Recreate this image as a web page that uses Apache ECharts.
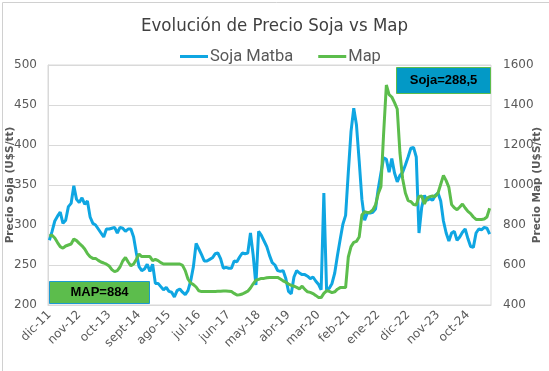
<!DOCTYPE html>
<html><head><meta charset="utf-8">
<script src="https://cdn.jsdelivr.net/npm/echarts/dist/echarts.min.js"></script>
<style>html,body{margin:0;padding:0;background:#fff}#c{width:549px;height:371px}</style>
</head><body><div id="c"></div>
<script>
// Monthly categories, dic-11 .. jun-25
const monthNames = ['ene','feb','mar','abr','may','jun','jul','ago','sept','oct','nov','dic'];
const startYear = 2011, startMonth = 11, monthCount = 163;
const labelEvery = 11;

const sojaMatba = [281,292,305,311,316,302,306,323,327,349,
332,328,334,326,330,310,302,300,295,290,
285,295,295,296,297,290,297,296,292,295,
295,285,265,248,243,245,251,242,251,227,
227,223,219,222,217,216,210,218,220,216,
213,218,230,248,277,270,263,255,255,257,
259,264,265,258,246,247,246,246,255,254,
260,265,264,265,290,262,225,292,287,280,
273,262,253,250,243,242,243,233,217,214,
235,243,240,238,238,236,233,235,230,226,
219,340,219,221,227,240,262,282,301,312,
366,417,446,425,380,332,306,315,315,316,
320,345,365,384,382,366,383,365,354,362,
366,375,385,396,397,385,290,322,337,331,
333,331,337,340,330,305,290,280,290,292,
281,285,291,295,283,273,272,290,295,294,
297,296,288.5];

const mapPrice = [745,749,735,712,692,684,695,700,705,730,
722,708,696,680,657,641,633,633,623,615,
610,604,595,577,567,572,590,620,638,615,
596,605,628,655,642,642,642,642,622,628,
622,612,605,605,605,605,605,605,605,598,
572,530,510,502,490,471,467,467,467,468,
468,468,469,469,470,470,469,467,458,450,
451,455,462,469,485,506,524,528,533,533,
536,538,538,538,538,530,521,514,505,498,
494,488,481,494,478,466,463,457,448,438,
437,458,471,468,462,466,479,487,487,487,
640,692,713,718,740,850,866,863,864,875,
900,956,992,1260,1500,1452,1440,1412,1380,1160,
1030,960,922,917,902,900,943,945,905,935,
942,945,943,960,1004,1048,1022,988,902,886,
876,890,905,885,868,857,840,828,828,828,
830,840,884];

const categories = [];
for (let k = 0; k < monthCount; k++) {
  const m = (startMonth + k) % 12;
  const y = startYear + Math.floor((startMonth + k) / 12);
  categories.push(monthNames[m] + '-' + String(y % 100).padStart(2, '0'));
}

const lastSoja = sojaMatba[sojaMatba.length - 1];
const lastMap = mapPrice[mapPrice.length - 1];
const titleFont = "'Liberation Sans Narrow', 'DejaVu Sans Condensed', Roboto, sans-serif";
const axisFont = "'DejaVu Sans', Verdana, sans-serif";
const BLUE = '#0fa6e2', GREEN = '#5cbd4c', GRID = '#d9d9d9';

const chart = echarts.init(document.getElementById('c'));
chart.setOption({
  animation: false,
  title: {
    text: 'Evolución de Precio Soja vs Map', left: 'center', top: 12,
    textStyle: { fontFamily: titleFont, fontSize: 18.5, fontWeight: 'normal', color: '#404040' }
  },
  legend: {
    top: 43, left: 175, icon: 'rect', itemWidth: 28, itemHeight: 3, itemGap: 25,
    textStyle: { fontFamily: "Roboto, sans-serif", fontSize: 16.5, color: '#595959', padding: [0,0,0,-3] },
    data: ['Soja Matba', 'Map']
  },
  grid: { left: 48, right: 58, top: 65, bottom: 66, containLabel: false, outerBoundsMode: 'none',
    show: true, borderColor: GRID, borderWidth: 1 },
  xAxis: {
    type: 'category', data: categories, boundaryGap: true,
    axisLine: { show: true, lineStyle: { color: GRID } }, axisTick: { show: false },
    splitLine: { show: false },
    axisLabel: {
      rotate: 45, interval: labelEvery - 1, fontFamily: axisFont, fontSize: 12, color: '#595959', margin: 8
    }
  },
  yAxis: [
    {
      type: 'value', min: 200, max: 500, interval: 50,
      name: 'Precio Soja (U$S/tt)', nameLocation: 'middle', nameGap: 32, nameMoveOverlap: false,
      nameTextStyle: { fontFamily: axisFont, fontSize: 10.5, fontWeight: 'bold', color: '#595959' },
      axisLine: { show: true, lineStyle: { color: GRID } }, axisTick: { show: false },
      splitLine: { lineStyle: { color: GRID } },
      axisLabel: { fontFamily: axisFont, fontSize: 12, color: '#595959', margin: 11 }
    },
    {
      type: 'value', min: 400, max: 1600, interval: 200,
      name: 'Precio Map (U$S/tt)', nameLocation: 'middle', nameGap: 41, nameMoveOverlap: false,
      nameTextStyle: { fontFamily: axisFont, fontSize: 10.5, fontWeight: 'bold', color: '#595959' },
      axisLine: { show: false }, axisTick: { show: false }, splitLine: { show: false },
      axisLabel: { fontFamily: axisFont, fontSize: 12, color: '#595959', margin: 12, formatter: v => String(v) }
    }
  ],
  series: [
    { name: 'Soja Matba', type: 'line', yAxisIndex: 0, showSymbol: false, color: BLUE,
      lineStyle: { width: 3, color: BLUE }, data: sojaMatba },
    { name: 'Map', type: 'line', yAxisIndex: 1, showSymbol: false, color: GREEN,
      lineStyle: { width: 3, color: GREEN }, data: mapPrice }
  ],
  graphic: [
    { type: 'rect', left: 0, top: 0, shape: { width: 548, height: 370 }, z: -1,
      style: { fill: 'none', stroke: '#d0d0d0', lineWidth: 1 } },
    { type: 'group', left: 49, top: 281, children: [
      { type: 'rect', shape: { width: 100, height: 22 }, style: { fill: GREEN, stroke: '#1c9ad0', lineWidth: 1 } },
      { type: 'text', x: 50, y: 11, style: { text: 'MAP=' + lastMap, fill: '#000', align: 'center', verticalAlign: 'middle',
        font: "bold 13px 'Liberation Sans', Arial, sans-serif" } }
    ]},
    { type: 'group', left: 396, top: 67, z: 10, children: [
      { type: 'rect', shape: { width: 94, height: 26 }, style: { fill: '#0399c6', stroke: GREEN, lineWidth: 1 } },
      { type: 'text', x: 47, y: 13, style: { text: 'Soja=' + String(lastSoja).replace('.', ','), fill: '#000', align: 'center', verticalAlign: 'middle',
        font: "bold 13px 'Liberation Sans', Arial, sans-serif" } }
    ]}
  ]
});
</script>
</body></html>
